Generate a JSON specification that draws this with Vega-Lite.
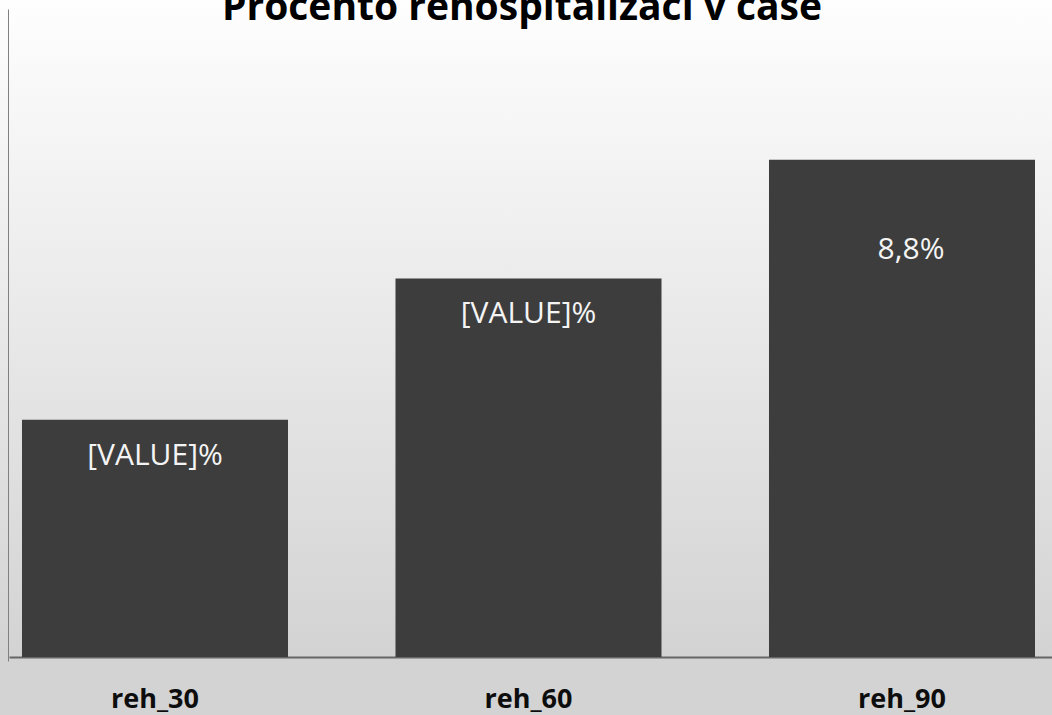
{
  "$schema": "https://vega.github.io/schema/vega-lite/v6.json",
  "width": 1052,
  "height": 715,
  "autosize": {"type": "none"},
  "padding": {"left": 0, "right": 0, "top": 0, "bottom": 0},
  "background": "#e6e6e6",
  "view": {
    "stroke": null,
    "fill": {"expr": "{gradient: 'linear', x1: 0, y1: 0, x2: 0, y2: 1, stops: [{offset: 0, color: '#fefefe'}, {offset: 0.92, color: '#d3d3d3'}, {offset: 1, color: '#d3d3d3'}]}"}
  },
  "title": {
    "text": "Procento rehospitalizací v čase",
    "font": "Open Sans",
    "fontSize": 39,
    "fontWeight": "bold",
    "color": "#000000",
    "anchor": "middle",
    "baseline": "alphabetic",
    "offset": -59,
    "dx": -4
  },
  "data": {
    "values": [
      {"kategorie": "reh_30", "hodnota": 4.2, "popisek": "[VALUE]%"},
      {"kategorie": "reh_60", "hodnota": 6.7, "popisek": "[VALUE]%"},
      {"kategorie": "reh_90", "hodnota": 8.8, "popisek": "8,8%"}
    ]
  },
  "encoding": {
    "x": {
      "field": "kategorie",
      "type": "nominal",
      "sort": null,
      "scale": {"paddingInner": 0.2878, "paddingOuter": 0.0522, "align": 0.564},
      "axis": {
        "title": null,
        "ticks": false,
        "tickSize": 0,
        "labelAngle": 0,
        "labelFont": "Open Sans",
        "labelFontSize": 27,
        "labelFontWeight": "bold",
        "labelColor": "#0d0d0d",
        "labelBaseline": "alphabetic",
        "labelPadding": 50,
        "offset": -58,
        "domainColor": "#666666",
        "domainWidth": 2,
        "domainDash": [0, 9, 1100, 20],
        "grid": false
      }
    },
    "y": {
      "field": "hodnota",
      "type": "quantitative",
      "scale": {"domain": [-1.02655, 11.62832], "nice": false, "zero": false},
      "axis": {
        "title": null,
        "labels": false,
        "ticks": false,
        "grid": false,
        "offset": -8,
        "domainColor": "#808080",
        "domainWidth": 1,
        "domainDash": [0, 54, 652, 1000]
      }
    }
  },
  "layer": [
    {"mark": {"type": "bar", "color": "#3d3d3d"}},
    {
      "transform": [{"filter": "datum.popisek == '[VALUE]%'"}],
      "mark": {"type": "text", "font": "Open Sans", "fontSize": 30, "color": "#f4f4f4", "baseline": "alphabetic", "align": "center", "dy": 45},
      "encoding": {"text": {"field": "popisek"}}
    },
    {
      "transform": [{"filter": "datum.popisek != '[VALUE]%'"}],
      "mark": {"type": "text", "font": "Open Sans", "fontSize": 30, "color": "#f4f4f4", "baseline": "alphabetic", "align": "center", "dy": 99, "dx": 9},
      "encoding": {"text": {"field": "popisek"}}
    }
  ]
}
